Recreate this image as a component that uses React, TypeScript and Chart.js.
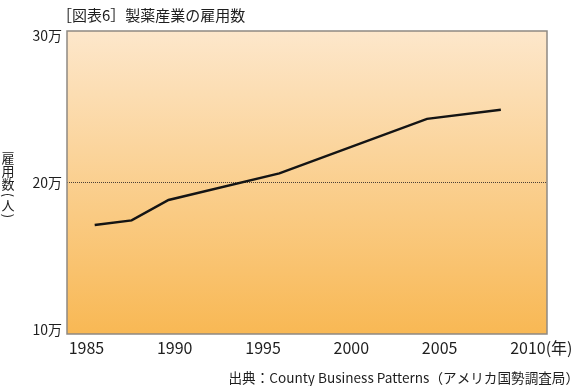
import React, { useEffect, useRef } from 'react';
import { Chart, registerables } from 'chart.js';

Chart.register(...registerables);

// ---- data ----
const years = [1986, 1988, 1990, 1996, 2004, 2008];
const employment = [172000, 175000, 188500, 206000, 242000, 248000];
const yTickValues = [100000, 200000, 300000];
const xTickYears = [1985, 1990, 1995, 2000, 2005, 2010];
const titleText = '［図表6］製薬産業の雇用数';
const yTitleChars = ['雇', '用', '数', '(', '人', ')'];
const sourceText = '出典：County Business Patterns（アメリカ国勢調査局）';
const yearUnit = '(年)';

const FONT = "'Noto Sans CJK JP', 'Noto Sans', sans-serif";
const TEXT = '#1e1e1e';

const decor = {
  id: 'decor',
  beforeDraw(chart: any) {
    const { ctx, chartArea: a } = chart;
    const g = ctx.createLinearGradient(0, a.top, 0, a.bottom);
    g.addColorStop(0, '#fde7cb');
    g.addColorStop(1, '#f8b854');
    ctx.save();
    ctx.fillStyle = g;
    ctx.fillRect(a.left, a.top, a.right - a.left, a.bottom - a.top);
    ctx.restore();
  },
  afterDraw(chart: any) {
    const { ctx, chartArea: a } = chart;
    ctx.save();
    // frame
    ctx.strokeStyle = '#8e8983';
    ctx.lineWidth = 1.5;
    ctx.strokeRect(a.left, a.top, a.right - a.left, a.bottom - a.top);

    ctx.fillStyle = TEXT;
    // title
    ctx.font = `15px ${FONT}`;
    ctx.textAlign = 'left';
    ctx.textBaseline = 'middle';
    ctx.fillText(titleText, 57, 15);

    // source
    ctx.font = `13.6px ${FONT}`;
    ctx.textAlign = 'right';
    ctx.fillText(sourceText, 579, 378);

    // (年) after the 2010 tick label
    const xl = chart.scales.xl;
    ctx.font = `16px ${FONT}`;
    const w = ctx.measureText('2010').width;
    ctx.textAlign = 'left';
    ctx.textBaseline = 'middle';
    ctx.fillText(yearUnit, xl.getPixelForValue(2010) + w / 2, xl.top + 14);

    // vertical axis title
    ctx.font = `13px ${FONT}`;
    ctx.textAlign = 'center';
    ctx.textBaseline = 'middle';
    const centers = [158.5, 171.5, 184.5, 195, 205.5, 216];
    yTitleChars.forEach((ch, i) => {
      const cy = centers[i];
      if (ch === '(' || ch === ')') {
        ctx.save();
        ctx.translate(8, cy);
        ctx.rotate(Math.PI / 2);
        ctx.fillText(ch, 0, 0);
        ctx.restore();
      } else {
        ctx.fillText(ch, 8, cy);
      }
    });
    ctx.restore();
  },
};

export default function App() {
  const ref = useRef<HTMLCanvasElement>(null);
  useEffect(() => {
    document.body.style.margin = '0';
    const chart = new Chart(ref.current as HTMLCanvasElement, {
      type: 'line',
      data: {
        datasets: [
          {
            data: years.map((y, i) => ({ x: y, y: employment[i] })),
            borderColor: '#141414',
            borderWidth: 2.5,
            pointRadius: 0,
            tension: 0,
            fill: false,
            xAxisID: 'x',
            yAxisID: 'y',
          },
        ],
      },
      options: {
        animation: false,
        responsive: true,
        maintainAspectRatio: false,
        layout: { padding: { top: 31, right: 33, bottom: 0, left: 0 } },
        plugins: {
          legend: { display: false },
          tooltip: { enabled: false },
          title: { display: false },
        },
        scales: {
          x: { type: 'linear', display: false, min: 1984.5, max: 2010.5 },
          y: { type: 'linear', display: false, min: 100000, max: 300000 },
          xl: {
            type: 'linear',
            position: 'bottom',
            min: 1983.9,
            max: 2011.08,
            afterBuildTicks: (s: any) => {
              s.ticks = xTickYears.map((v) => ({ value: v }));
            },
            afterFit: (s: any) => {
              s.height = 52;
            },
            grid: { display: false },
            border: { display: false },
            ticks: {
              font: { size: 16, family: FONT },
              color: TEXT,
              padding: -4,
              maxRotation: 0,
              autoSkip: false,
              callback: (v: any) => String(v),
            },
          },
          yl: {
            type: 'linear',
            position: 'left',
            min: 97284,
            max: 303056,
            afterBuildTicks: (s: any) => {
              s.ticks = yTickValues.map((v) => ({ value: v }));
            },
            afterFit: (s: any) => {
              s.width = 67;
            },
            grid: {
              drawTicks: false,
              lineWidth: 1,
              color: (c: any) =>
                c.tick && c.tick.value === 200000 ? '#4d4036' : 'rgba(0,0,0,0)',
            },
            border: { display: false, dash: [1, 1] },
            ticks: {
              font: { size: 14, family: FONT },
              color: TEXT,
              padding: 5,
              callback: (v: any) => `${Number(v) / 10000}万`,
            },
          },
        },
      } as any,
      plugins: [decor],
    });
    return () => chart.destroy();
  }, []);

  return (
    <div style={{ width: 580, height: 386, position: 'relative' }}>
      <canvas ref={ref} />
    </div>
  );
}
